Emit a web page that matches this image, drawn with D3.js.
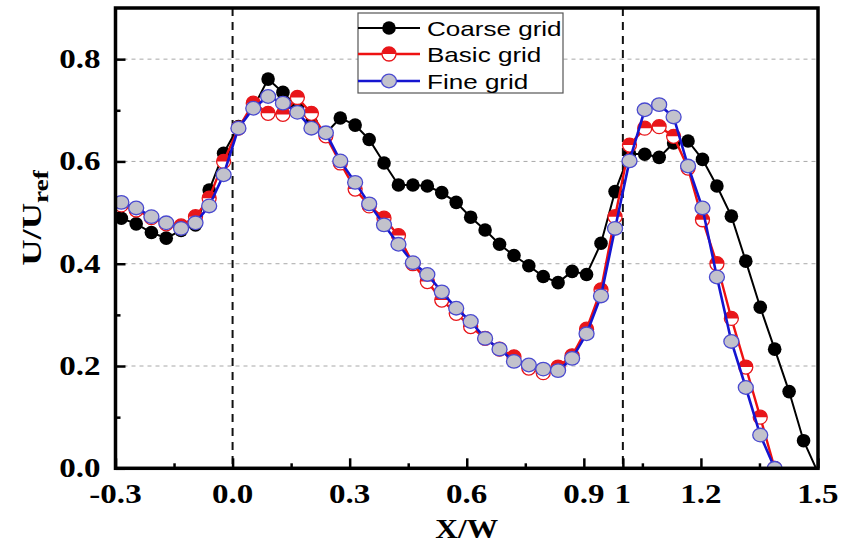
<!DOCTYPE html>
<html>
<head>
<meta charset="utf-8">
<script src="https://cdn.jsdelivr.net/npm/d3@7"></script>
<style>
  html, body { margin: 0; padding: 0; background: #fff; }
  svg { display: block; }
</style>
</head>
<body>
<svg id="chart" width="842" height="545"></svg>
<script>
// Streamwise velocity profiles U/Uref across X/W for three mesh resolutions
const xGrid = [-0.285, -0.247, -0.208, -0.170, -0.132, -0.095, -0.060, -0.023, 0.015, 0.053,
  0.091, 0.129, 0.166, 0.202, 0.239, 0.276, 0.314, 0.350, 0.388, 0.425,
  0.462, 0.499, 0.536, 0.573, 0.610, 0.647, 0.684, 0.721, 0.759, 0.796,
  0.834, 0.870, 0.907, 0.944, 0.980, 1.017, 1.056, 1.093, 1.130, 1.167,
  1.204, 1.241, 1.278, 1.315, 1.352, 1.389];

const coarseX = xGrid.concat([1.426, 1.463, 1.495]);
const coarseY = [0.489, 0.478, 0.461, 0.450, 0.465, 0.476, 0.544, 0.616, 0.668, 0.705,
  0.761, 0.735, 0.707, 0.675, 0.655, 0.685, 0.671, 0.643, 0.597, 0.554,
  0.554, 0.552, 0.539, 0.520, 0.491, 0.466, 0.438, 0.416, 0.396, 0.375,
  0.363, 0.385, 0.379, 0.440, 0.541, 0.615, 0.614, 0.608, 0.636, 0.640,
  0.604, 0.552, 0.493, 0.405, 0.315, 0.233, 0.150, 0.054, 0.000];

const basicX = xGrid;
const basicY = [0.515, 0.505, 0.490, 0.478, 0.474, 0.492, 0.528, 0.600, 0.665, 0.714,
  0.694, 0.692, 0.725, 0.694, 0.650, 0.597, 0.546, 0.513, 0.489, 0.455,
  0.400, 0.365, 0.329, 0.303, 0.277, 0.254, 0.233, 0.218, 0.196, 0.187,
  0.198, 0.220, 0.272, 0.349, 0.492, 0.632, 0.665, 0.668, 0.649, 0.587,
  0.486, 0.400, 0.293, 0.198, 0.100, 0.000];

const fineX = xGrid;
const fineY = [0.520, 0.509, 0.492, 0.480, 0.469, 0.480, 0.513, 0.574, 0.665, 0.704,
  0.727, 0.714, 0.696, 0.665, 0.656, 0.601, 0.559, 0.517, 0.476, 0.438,
  0.402, 0.379, 0.345, 0.313, 0.287, 0.254, 0.233, 0.209, 0.202, 0.194,
  0.191, 0.215, 0.263, 0.337, 0.469, 0.601, 0.701, 0.711, 0.687, 0.591,
  0.509, 0.374, 0.248, 0.158, 0.065, 0.000];

const seriesNames = ["Coarse grid", "Basic grid", "Fine grid"];
const xTickValues = [-0.3, 0.0, 0.3, 0.6, 0.9, 1.0, 1.2, 1.5];
const xTickLabels = ["-0.3", "0.0", "0.3", "0.6", "0.9", "1", "1.2", "1.5"];
const xMinorTicks = [-0.15, 0.15, 0.45, 0.75, 1.05, 1.35];
const yTickValues = [0.0, 0.2, 0.4, 0.6, 0.8];
const yMinorTicks = [0.1, 0.3, 0.5, 0.7];
const referenceLines = [0.0, 1.0];

const svg = d3.select("#chart");
const margin = { left: 115.5, right: 24, top: 8, bottom: 76.7 };
const W = 842, H = 545;
const x = d3.scaleLinear().domain([-0.3, 1.5]).range([margin.left, W - margin.right]);
const y = d3.scaleLinear().domain([0, 0.9]).range([H - margin.bottom, margin.top]);

const serif = "'Liberation Serif', 'Times New Roman', serif";
const sans = "'Liberation Sans', Arial, sans-serif";

// widen a text element along its baseline by a factor, keeping its anchor
function widen(sel, k) {
  sel.each(function () {
    const len = this.getComputedTextLength();
    d3.select(this).attr("textLength", len * k).attr("lengthAdjust", "spacingAndGlyphs");
  });
}

svg.append("defs").append("clipPath").attr("id", "plotClip")
  .append("rect")
  .attr("x", x(-0.3)).attr("y", y(0.9))
  .attr("width", x(1.5) - x(-0.3)).attr("height", y(0) - y(0.9));

// horizontal grid
svg.append("g").selectAll("line").data(yTickValues.filter(v => v > 0)).join("line")
  .attr("x1", x(-0.3)).attr("x2", x(1.5))
  .attr("y1", d => y(d)).attr("y2", d => y(d))
  .attr("stroke", "#a8a8a8").attr("stroke-width", 1).attr("stroke-dasharray", "4,4");

// vertical reference lines at the edges of the opening
svg.append("g").selectAll("line").data(referenceLines).join("line")
  .attr("x1", d => x(d)).attr("x2", d => x(d))
  .attr("y1", y(0.9)).attr("y2", y(0))
  .attr("stroke", "#111").attr("stroke-width", 2).attr("stroke-dasharray", "8,6");

const line = d3.line().x(d => x(d[0])).y(d => y(d[1]));
const plot = svg.append("g").attr("clip-path", "url(#plotClip)");

const coarse = d3.zip(coarseX, coarseY);
const basic = d3.zip(basicX, basicY);
const fine = d3.zip(fineX, fineY);

// Coarse grid: black line with filled black dots
plot.append("path").datum(coarse).attr("d", line)
  .attr("fill", "none").attr("stroke", "#000").attr("stroke-width", 2);
plot.append("g").selectAll("circle").data(coarse.slice(0, coarse.length - 1)).join("circle")
  .attr("cx", d => x(d[0])).attr("cy", d => y(d[1])).attr("r", 6.8)
  .attr("fill", "#000");

// Basic grid: red line with half-filled markers
const halfTop = r => `M${-r},0 A${r},${r} 0 0 1 ${r},0 Z`;
function halfMarker(g, r) {
  g.append("circle").attr("r", r).attr("fill", "#fff").attr("stroke", "#e8161a").attr("stroke-width", 1.3);
  g.append("path").attr("d", halfTop(r)).attr("fill", "#e8161a");
}
plot.append("path").datum(basic).attr("d", line)
  .attr("fill", "none").attr("stroke", "#ee1111").attr("stroke-width", 2.4);
plot.append("g").selectAll("g").data(basic).join("g")
  .attr("transform", d => `translate(${x(d[0])},${y(d[1])})`)
  .each(function () { halfMarker(d3.select(this), 7); });

// Fine grid: blue line with grey markers
plot.append("path").datum(fine).attr("d", line)
  .attr("fill", "none").attr("stroke", "#1515d0").attr("stroke-width", 2.6);
plot.append("g").selectAll("ellipse").data(fine).join("ellipse")
  .attr("cx", d => x(d[0])).attr("cy", d => y(d[1])).attr("rx", 7.5).attr("ry", 6.8)
  .attr("fill", "#c2c2cc").attr("stroke", "#4a4ad0").attr("stroke-width", 1.3);

// frame
svg.append("rect")
  .attr("x", x(-0.3)).attr("y", y(0.9))
  .attr("width", x(1.5) - x(-0.3)).attr("height", y(0) - y(0.9))
  .attr("fill", "none").attr("stroke", "#000").attr("stroke-width", 3.5);

// inward ticks
function tickGroup(axis, transform) {
  svg.append("g").attr("transform", transform).call(axis)
    .call(g => g.select(".domain").remove())
    .call(g => g.selectAll(".tick line").attr("stroke", "#000").attr("stroke-width", 2.5));
}
tickGroup(d3.axisTop(x).tickValues(xTickValues).tickSize(10).tickFormat(""), `translate(0,${y(0)})`);
tickGroup(d3.axisTop(x).tickValues(xMinorTicks).tickSize(5).tickFormat(""), `translate(0,${y(0)})`);
tickGroup(d3.axisRight(y).tickValues(yTickValues).tickSize(10).tickFormat(""), `translate(${x(-0.3)},0)`);
tickGroup(d3.axisRight(y).tickValues(yMinorTicks).tickSize(5).tickFormat(""), `translate(${x(-0.3)},0)`);

// tick labels
svg.append("g").selectAll("text").data(xTickValues).join("text")
  .attr("x", d => x(d)).attr("y", y(0) + 35)
  .attr("text-anchor", "middle")
  .attr("font-family", serif).attr("font-weight", "bold").attr("font-size", 28)
  .text((d, i) => xTickLabels[i])
  .call(widen, 1.18);
svg.append("g").selectAll("text").data(yTickValues).join("text")
  .attr("x", x(-0.3) - 15).attr("y", d => y(d) + 9)
  .attr("text-anchor", "end")
  .attr("font-family", serif).attr("font-weight", "bold").attr("font-size", 28)
  .text(d => d.toFixed(1))
  .call(widen, 1.18);

// axis titles
svg.append("text").attr("x", (x(-0.3) + x(1.5)) / 2).attr("y", 538)
  .attr("text-anchor", "middle")
  .attr("font-family", serif).attr("font-weight", "bold").attr("font-size", 28)
  .text("X/W")
  .call(widen, 1.12);
const yTitle = svg.append("text")
  .attr("transform", "translate(41,218) rotate(-90)")
  .attr("text-anchor", "middle")
  .attr("font-family", serif).attr("font-weight", "bold").attr("font-size", 28);
yTitle.append("tspan").text("U/U");
yTitle.append("tspan").attr("dy", 7).attr("font-size", 21).text("ref");
yTitle.call(widen, 1.3);

// legend
const legend = svg.append("g").attr("transform", "translate(358,13)");
legend.append("rect").attr("width", 205).attr("height", 80)
  .attr("fill", "#fff").attr("stroke", "#555").attr("stroke-width", 1.2);
const rows = [15, 41, 68];
const lineColors = ["#000", "#ee1111", "#1515d0"];
rows.forEach((ry, i) => {
  legend.append("line").attr("x1", 0).attr("x2", 62).attr("y1", ry).attr("y2", ry)
    .attr("stroke", lineColors[i]).attr("stroke-width", i === 0 ? 2 : 2.4);
  const m = legend.append("g").attr("transform", `translate(31,${ry})`);
  if (i === 0) m.append("circle").attr("r", 6.8).attr("fill", "#000");
  if (i === 1) halfMarker(m, 7);
  if (i === 2) m.append("ellipse").attr("rx", 7.5).attr("ry", 6.8)
    .attr("fill", "#c2c2cc").attr("stroke", "#4a4ad0").attr("stroke-width", 1.3);
  legend.append("text").attr("x", 69).attr("y", ry + 8)
    .attr("font-family", sans).attr("font-size", 21).attr("fill", "#000")
    .text(seriesNames[i])
    .call(widen, 1.24);
});
</script>
</body>
</html>
